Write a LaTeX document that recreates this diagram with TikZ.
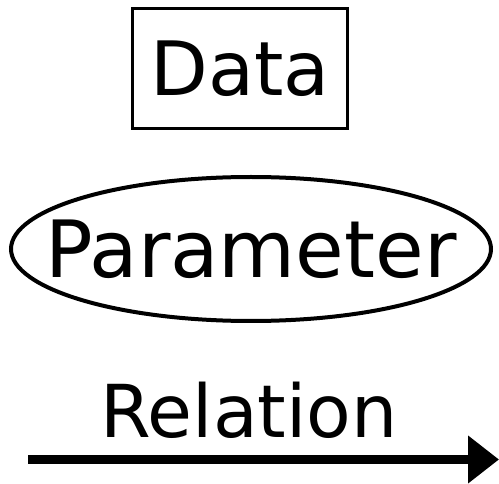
\documentclass[tikz,border=0pt]{standalone}
\usepackage{fontspec}
\setmainfont{DejaVu Sans}
\usetikzlibrary{arrows.meta}
\tikzset{big/.style={font=\fontsize{#1}{90}\selectfont, inner sep=0pt}}

\begin{document}
\begin{tikzpicture}[x=1pt, y=1pt, >={Triangle[length=31pt, width=46pt]}]
\useasboundingbox (0,0) rectangle (499,-484);
\node[big=75, draw, line width=3pt, minimum width=215pt, minimum height=120pt] (data) at (240,-68.5) {Data};
\node[big=79] (param) at (251,-249) {Parameter};
\draw[line width=4pt] (param.center) ellipse [x radius=240, y radius=72];
\node[big=73, anchor=base] (rel) at (249,-438) {Relation};
\coordinate (rs) at (28,-459.5);
\coordinate (re) at (499,-459.5);
\draw[->, line width=9pt](rs)--(re);
\end{tikzpicture}
\end{document}
